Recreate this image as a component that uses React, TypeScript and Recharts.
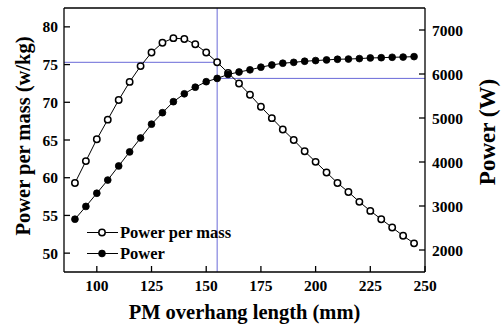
import React from "react";
import {
  LineChart,
  Line,
  XAxis,
  YAxis,
  ReferenceLine,
  Legend,
} from "recharts";

const xValues = [
  90, 95, 100, 105, 110, 115, 120, 125, 130, 135, 140, 145, 150, 155, 160, 165,
  170, 175, 180, 185, 190, 195, 200, 205, 210, 215, 220, 225, 230, 235, 240, 245,
];
const powerPerMass = [
  59.3, 62.2, 65.1, 67.7, 70.3, 72.7, 74.8, 76.6, 77.9, 78.5, 78.4, 77.7, 76.6,
  75.3, 73.9, 72.5, 71.0, 69.4, 67.9, 66.4, 65.0, 63.5, 62.1, 60.7, 59.3, 58.1,
  56.8, 55.6, 54.5, 53.4, 52.3, 51.3,
];
const power = [
  2700, 2990, 3290, 3590, 3910, 4230, 4545, 4860, 5120, 5370, 5550, 5700, 5825,
  5900, 5990, 6045, 6095, 6155, 6205, 6245, 6265, 6290, 6305, 6320, 6335, 6340,
  6350, 6365, 6370, 6380, 6385, 6395,
];
const xTicks = [100, 125, 150, 175, 200, 225, 250];
const leftTicks = [50, 55, 60, 65, 70, 75, 80];
const rightTicks = [2000, 3000, 4000, 5000, 6000, 7000];
const xDomain = [85, 250];
const leftDomain = [47.5, 82.5];
const rightDomain = [1500, 7500];
const markX = 155;
const markPPM = 75.3;
const markPower = 5900;
const seriesNames = ["Power per mass", "Power"];

const data = xValues.map((x, i) => ({
  x,
  ppm: powerPerMass[i],
  power: power[i],
}));

const FONT = "'Liberation Serif', 'Times New Roman', serif";
const BLUE = "#6a6ad8";
const tickStyle = { fill: "#000", fontSize: 15.5, fontWeight: 700, fontFamily: FONT };

const LeftLabel = (props: any) => {
  const vb = props.viewBox || { x: 0, y: 0, width: 64, height: 264 };
  const cx = vb.x + 23;
  const cy = vb.y + vb.height / 2 - 4;
  return (
    <text
      x={cx}
      y={cy}
      transform={`rotate(-90, ${cx}, ${cy})`}
      textAnchor="middle"
      dominantBaseline="central"
      fontFamily={FONT}
      fontWeight={700}
      fontSize={20.5}
      fill="#000"
    >
      Power per mass (w/kg)
    </text>
  );
};

const RightLabel = (props: any) => {
  const vb = props.viewBox || { x: 425, y: 0, width: 76, height: 264 };
  const cx = vb.x + 62;
  const cy = vb.y + vb.height / 2 - 8;
  return (
    <text
      x={cx}
      y={cy}
      transform={`rotate(-90, ${cx}, ${cy})`}
      textAnchor="middle"
      dominantBaseline="central"
      fontFamily={FONT}
      fontWeight={700}
      fontSize={23}
      fill="#000"
    >
      Power (W)
    </text>
  );
};

const BottomLabel = (props: any) => {
  const vb = props.viewBox || { x: 64, y: 272, width: 361, height: 52 };
  const cx = vb.x + vb.width / 2;
  const cy = vb.y + 40;
  return (
    <text
      x={cx}
      y={cy}
      textAnchor="middle"
      dominantBaseline="central"
      fontFamily={FONT}
      fontWeight={700}
      fontSize={20.5}
      fill="#000"
    >
      PM overhang length (mm)
    </text>
  );
};

const renderLegend = () => (
  <div style={{ fontFamily: FONT, fontWeight: 700, fontSize: 16.5, color: "#000", lineHeight: "21px" }}>
    {seriesNames.map((name, i) => (
      <div key={name} style={{ display: "flex", alignItems: "center" }}>
        <svg width={34} height={21} style={{ display: "block" }}>
          <line x1={2} y1={10.5} x2={33} y2={10.5} stroke="#000" strokeWidth={1} />
          <circle
            cx={17}
            cy={10.5}
            r={i === 0 ? 3.2 : 3.4}
            fill={i === 0 ? "#fff" : "#000"}
            stroke="#000"
            strokeWidth={i === 0 ? 1.5 : 0.8}
          />
        </svg>
        <span style={{ marginLeft: 1 }}>{name}</span>
      </div>
    ))}
  </div>
);

export default function App() {
  return (
    <div style={{ position: "absolute", left: 0, top: 0, width: 501, height: 324, background: "#fff" }}>
      <LineChart width={501} height={324} data={data} margin={{ top: 0, right: 0, bottom: 0, left: 0 }}>
        <XAxis
          dataKey="x"
          type="number"
          domain={xDomain}
          ticks={xTicks}
          allowDataOverflow
          height={52}
          tickSize={-6}
          tickMargin={14}
          tick={tickStyle}
          stroke="#000"
          axisLine={{ stroke: "#000", strokeWidth: 1.3 }}
          tickLine={{ stroke: "#000", strokeWidth: 1.3 }}
          label={<BottomLabel />}
        />
        <XAxis
          xAxisId="top"
          orientation="top"
          dataKey="x"
          type="number"
          domain={xDomain}
          ticks={xTicks}
          allowDataOverflow
          height={8}
          tickSize={-6}
          tick={false}
          axisLine={{ stroke: "#000", strokeWidth: 1.3 }}
          tickLine={{ stroke: "#000", strokeWidth: 1.3 }}
        />
        <YAxis
          yAxisId="left"
          type="number"
          domain={leftDomain}
          ticks={leftTicks}
          allowDataOverflow
          width={64}
          tickSize={-6}
          tickMargin={12}
          tick={tickStyle}
          axisLine={{ stroke: "#000", strokeWidth: 1.3 }}
          tickLine={{ stroke: "#000", strokeWidth: 1.3 }}
          label={<LeftLabel />}
        />
        <YAxis
          yAxisId="right"
          orientation="right"
          type="number"
          domain={rightDomain}
          ticks={rightTicks}
          allowDataOverflow
          width={76}
          tickSize={-6}
          tickMargin={13}
          tick={tickStyle}
          axisLine={{ stroke: "#000", strokeWidth: 1.3 }}
          tickLine={{ stroke: "#000", strokeWidth: 1.3 }}
          label={<RightLabel />}
        />
        <ReferenceLine
          yAxisId="left"
          x={markX}
          stroke={BLUE}
          strokeWidth={1}
        />
        <ReferenceLine
          yAxisId="left"
          segment={[
            { x: xDomain[0], y: markPPM },
            { x: markX, y: markPPM },
          ]}
          stroke={BLUE}
          strokeWidth={1}
        />
        <ReferenceLine
          yAxisId="right"
          segment={[
            { x: markX, y: markPower },
            { x: xDomain[1], y: markPower },
          ]}
          stroke={BLUE}
          strokeWidth={1}
        />
        <Line
          yAxisId="left"
          dataKey="ppm"
          name={seriesNames[0]}
          stroke="#000"
          strokeWidth={1}
          dot={{ r: 3.2, fill: "#fff", stroke: "#000", strokeWidth: 1.5 }}
          isAnimationActive={false}
        />
        <Line
          yAxisId="right"
          dataKey="power"
          name={seriesNames[1]}
          stroke="#000"
          strokeWidth={1}
          dot={{ r: 3.4, fill: "#000", stroke: "#000", strokeWidth: 0.8 }}
          isAnimationActive={false}
        />
        <Legend
          layout="vertical"
          align="center"
          verticalAlign="middle"
          content={renderLegend}
          wrapperStyle={{ position: "absolute", left: 85, top: 222, width: "auto" }}
        />
      </LineChart>
    </div>
  );
}
